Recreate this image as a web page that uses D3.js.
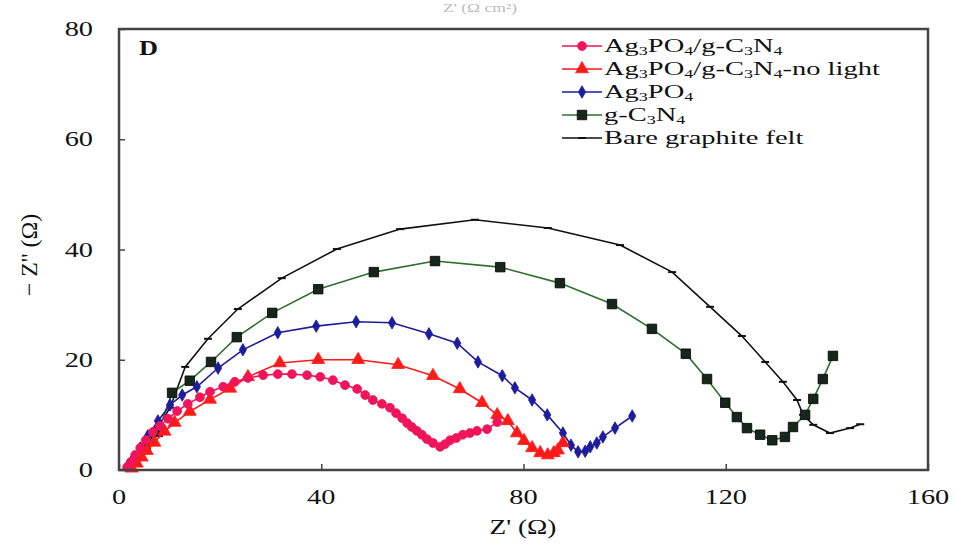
<!DOCTYPE html>
<html><head><meta charset="utf-8">
<script src="https://cdn.jsdelivr.net/npm/d3@7/dist/d3.min.js"></script>
<style>body{margin:0;background:#fff}svg{display:block}</style>
</head><body>
<svg id="c" width="958" height="555"></svg>
<script>
// ---- data ----
const xTicks = [0, 40, 80, 120, 160];
const yTicks = [0, 20, 40, 60, 80];
const seriesNames = ["Ag3PO4/g-C3N4", "Ag3PO4/g-C3N4-no light", "Ag3PO4", "g-C3N4", "Bare graphite felt"];

const pinkX = [1.6,2.4,3.2,4.2,5.3,6.7,8.1,9.7,11.5,13.6,16.0,18.0,20.6,22.9,25.5,28.5,31.4,34.2,37.2,39.8,42.3,44.7,47.1,48.7,50.2,52.0,53.6,54.8,56.0,57.0,57.9,58.9,59.9,60.9,62.1,63.5,64.5,65.5,66.7,68.0,69.4,70.8,72.8,74.8];
const pinkY = [0.5,1.5,2.7,4.0,5.4,6.9,8.0,9.3,10.7,12.0,13.2,14.2,15.1,16.0,16.7,17.2,17.4,17.4,17.2,16.9,16.3,15.4,14.7,13.6,12.7,12.0,11.3,10.3,9.4,8.5,7.8,7.1,6.4,5.6,4.9,4.2,4.7,5.4,5.8,6.4,6.7,7.1,7.4,8.7];

const redX = [2.5,3.5,4.5,5.5,7.0,9.0,11.0,14.0,18.0,22.0,25.5,31.8,39.4,47.3,55.2,62.1,67.4,71.8,74.8,76.9,78.7,80.1,81.7,83.3,84.8,86.0,86.8,87.8];
const redY = [0.3,1.2,2.3,3.5,5.0,7.0,8.6,10.6,12.8,14.8,16.9,19.4,20.0,20.0,19.1,17.1,14.7,12.2,10.0,8.9,6.7,5.3,4.0,3.1,2.7,3.1,3.6,4.9];

const blueX = [1.8,3.0,4.2,5.7,7.7,10.1,12.5,15.4,19.6,24.5,31.4,39.0,46.9,54.0,61.3,66.9,71.0,75.8,78.3,81.7,84.7,87.8,89.4,90.8,92.2,93.2,94.5,95.7,98.1,101.5];
const blueY = [0.9,2.4,4.0,6.2,8.9,11.8,13.6,15.1,18.5,21.8,24.9,26.1,26.9,26.7,24.7,23.0,19.6,17.1,14.9,12.7,10.0,6.7,4.5,3.3,3.4,4.2,4.9,6.0,7.6,9.8];

const greenX = [3.2,5.3,7.7,10.5,14.0,18.2,23.3,30.3,39.4,50.4,62.5,75.4,87.2,97.5,105.4,112.1,116.3,119.9,122.2,124.2,126.8,129.2,131.7,133.3,135.7,137.3,139.2,141.2];
const greenY = [1.5,4.0,6.9,14.0,16.2,19.6,24.1,28.5,32.8,35.9,37.9,36.8,33.9,30.1,25.6,21.1,16.5,12.2,9.6,7.6,6.4,5.4,6.0,7.8,10.0,12.9,16.5,20.7];

const blackX = [2.0,2.8,4.7,7.1,10.1,13.1,17.6,23.5,32.2,43.1,55.6,70.4,84.8,99.1,109.4,116.9,123.2,127.8,131.3,134.1,135.3,137.3,140.6,144.6,146.6];
const blackY = [0.0,1.3,3.1,6.9,11.3,18.7,23.8,29.2,34.8,40.1,43.7,45.4,43.9,40.8,35.9,29.6,24.3,19.6,16.0,12.7,10.0,8.2,6.7,7.6,8.3];

// ---- layout ----
const svg = d3.select("#c");
const x = d3.scaleLinear().domain([0,160]).range([119,928]);
const y = d3.scaleLinear().domain([0,80]).range([470,29]);
const serif = "'Liberation Serif','Times New Roman',serif";
const SX = 1.35; // horizontal stretch of text seen in the reference

function stext(parent, px, py, str, size, anchor, sx) {
  return parent.append("text")
    .attr("transform", `translate(${px},${py}) scale(${sx || SX},1)`)
    .attr("text-anchor", anchor || "start")
    .attr("font-family", serif).attr("font-size", size).attr("fill", "#111").text(str);
}

const series = [
  {name: seriesNames[0], xs: pinkX, ys: pinkY, color: "#f0145a", marker: "circle"},
  {name: seriesNames[1], xs: redX, ys: redY, color: "#ff1a1a", marker: "triangle"},
  {name: seriesNames[2], xs: blueX, ys: blueY, color: "#1c1c9c", marker: "diamond"},
  {name: seriesNames[3], xs: greenX, ys: greenY, color: "#2f6e2f", marker: "square"},
  {name: seriesNames[4], xs: blackX, ys: blackY, color: "#111111", marker: "dash"}
];

// faint text from panel above (cut in the reference)
stext(svg, 480, 12, "Z' (Ω cm²)", 13, "middle").attr("fill", "#bbbbbb");

// axes (ticks drawn by d3, labels placed with the scales)
const gx = svg.append("g").attr("transform","translate(0,470)")
  .call(d3.axisBottom(x).tickValues(xTicks).tickSizeInner(-6).tickSizeOuter(0).tickFormat(""));
const gy = svg.append("g").attr("transform","translate(119,0)")
  .call(d3.axisLeft(y).tickValues(yTicks).tickSizeInner(-6).tickSizeOuter(0).tickFormat(""));
[gx, gy].forEach(g => {
  g.select(".domain").remove();
  g.selectAll("line").attr("stroke","#444").attr("stroke-width",1.5);
});
xTicks.forEach(v => stext(svg, x(v), 504, String(v), 21, "middle"));
yTicks.forEach(v => stext(svg, 93, y(v) + 7, String(v), 21, "end"));

// data lines and markers
const sym = {
  circle: d3.symbol().type(d3.symbolCircle).size(62),
  triangle: d3.symbol().type(d3.symbolTriangle).size(72),
  diamond: d3.symbol().type(d3.symbolDiamond).size(45),
  square: d3.symbol().type(d3.symbolSquare).size(90)
};
function drawMarker(g, s, px, py) {
  if (s.marker === "dash") {
    g.append("line").attr("x1", px-4).attr("x2", px+4).attr("y1", py).attr("y2", py)
      .attr("stroke", s.color).attr("stroke-width", 2);
  } else {
    g.append("path").attr("d", sym[s.marker]()).attr("transform", `translate(${px},${py})`)
      .attr("fill", s.marker === "square" ? "#16261a" : s.color)
      .attr("stroke", s.marker === "square" ? "#000" : s.color).attr("stroke-width", 0.8);
  }
}
const line = d3.line().x(d => x(d[0])).y(d => y(d[1]));
const plot = svg.append("g");
series.slice().reverse().forEach(s => {
  const pts = s.xs.map((v,i) => [v, s.ys[i]]);
  const g = plot.append("g");
  g.append("path").attr("d", line(pts)).attr("fill","none").attr("stroke", s.color).attr("stroke-width", 1.6);
  pts.forEach(p => drawMarker(g, s, x(p[0]), y(p[1])));
});

// frame
svg.append("rect").attr("x",119).attr("y",29).attr("width",809).attr("height",441)
  .attr("fill","none").attr("stroke","#444").attr("stroke-width",2.5);

// panel letter
stext(svg, 139, 55, "D", 21, "start", 1.25).attr("font-weight","bold");

// legend with subscripts
function richText(t, str) {
  const parts = str.split(/(\d)/).filter(p => p !== "");
  let prevSub = false;
  parts.forEach(p => {
    const isSub = /^\d$/.test(p);
    const sp = t.append("tspan").text(p);
    if (isSub) { sp.attr("font-size", 12).attr("dy", 3); prevSub = true; }
    else { if (prevSub) sp.attr("dy", -3); prevSub = false; }
  });
}
const lg = svg.append("g");
series.forEach((s, i) => {
  const ly = 46 + i * 23;
  lg.append("line").attr("x1", 562).attr("x2", 602).attr("y1", ly).attr("y2", ly)
    .attr("stroke", s.color).attr("stroke-width", 1.6);
  drawMarker(lg, s, 582, ly);
  const t = stext(lg, 604, ly + 6, "", 19, "start", 1.5);
  richText(t, s.name);
});

// axis titles
stext(svg, 523, 534, "Z' (Ω)", 21, "middle", 1.3);
svg.append("text").attr("transform","translate(37,255) rotate(-90)").attr("text-anchor","middle")
  .attr("font-family", serif).attr("font-size", 24).attr("fill","#111").text("−  Z''  (Ω)");
</script>
</body></html>
